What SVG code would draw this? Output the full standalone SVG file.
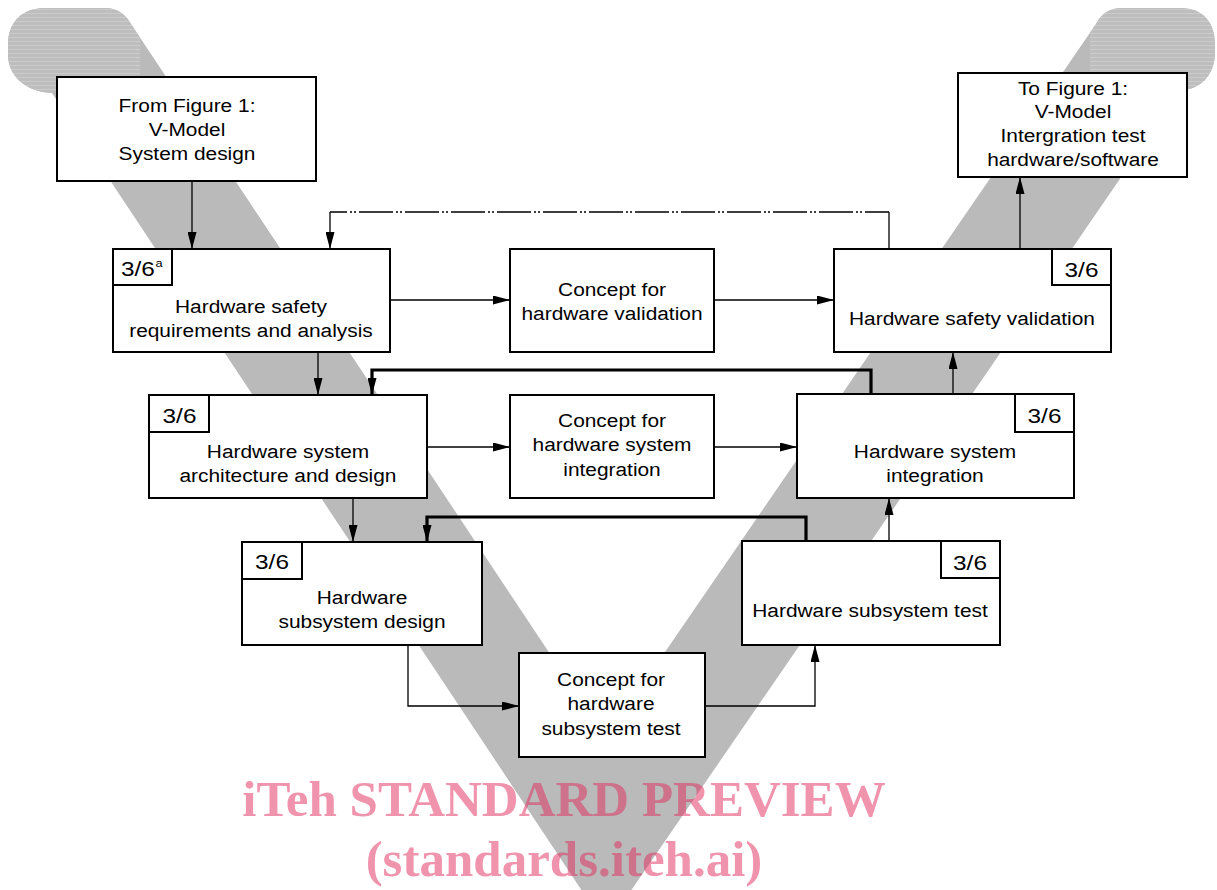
<svg xmlns="http://www.w3.org/2000/svg" width="1217" height="890" viewBox="0 0 1217 890">
<style>
.box{fill:#fff;stroke:#000;stroke-width:2}
.lbl{fill:none;stroke:#000;stroke-width:2}
.t{font-family:"Liberation Sans",Arial,sans-serif;font-size:18px;fill:#000;text-anchor:middle}
.n{font-family:"Liberation Sans",Arial,sans-serif;font-size:21px;fill:#000;text-anchor:middle}
.c{fill:none;stroke:#000;stroke-width:1.3}
.b{fill:none;stroke:#000;stroke-width:3.2}
.wm{font-family:"Liberation Serif","Times New Roman",serif;font-weight:bold;font-size:51px;fill:rgb(225,40,90);fill-opacity:0.5;text-anchor:middle}
</style>
<defs>
<marker id="ah" markerUnits="userSpaceOnUse" markerWidth="17" markerHeight="9" refX="17" refY="4.5" orient="auto"><path d="M0,0 L17,4.5 L0,9 z" fill="#000"/></marker>
<pattern id="stripes" patternUnits="userSpaceOnUse" width="40" height="4"><rect width="40" height="4" fill="#bebebe"/><rect y="1" width="40" height="1" fill="#cbcbcb"/></pattern>
<clipPath id="vclip"><path d="M52,93 C25,92 8,75 8,55 L8,45 C8,22 22,8 45,8 L105,8 Q122,8 131,24 L606,738 L1096,24 Q1104,8 1122,8 L1180,8 C1203,8 1215,22 1215,45 L1215,52 C1215,75 1200,90 1181,90 L606,927 Z"/></clipPath>
</defs>
<rect width="1217" height="890" fill="#fff"/>
<path id="vshape" d="M52,93 C25,92 8,75 8,55 L8,45 C8,22 22,8 45,8 L105,8 Q122,8 131,24 L606,738 L1096,24 Q1104,8 1122,8 L1180,8 C1203,8 1215,22 1215,45 L1215,52 C1215,75 1200,90 1181,90 L606,927 Z" fill="#bababa"/>
<g clip-path="url(#vclip)">
<rect x="0" y="8" width="140" height="84" fill="url(#stripes)"/>
<rect x="1090" y="8" width="127" height="84" fill="url(#stripes)"/>
</g>
<g id="connectors">
<path class="c" d="M192,181 V249" marker-end="url(#ah)"/>
<path class="c" d="M889,249 V212"/>
<path class="c" d="M330,212 H889" stroke-dasharray="34 3 2 2 2 3" stroke-dashoffset="17"/>
<path class="c" d="M330,212 V249" marker-end="url(#ah)"/>
<path class="c" d="M390,300 H510" marker-end="url(#ah)"/>
<path class="c" d="M714,300 H834" marker-end="url(#ah)"/>
<path class="c" d="M1020,249 V177" marker-end="url(#ah)"/>
<path class="c" d="M318,352 V395" marker-end="url(#ah)"/>
<path class="b" d="M871,394 V370 H372 V395" marker-end="url(#ah)"/>
<path class="c" d="M427,447 H510" marker-end="url(#ah)"/>
<path class="c" d="M714,447 H797" marker-end="url(#ah)"/>
<path class="c" d="M953,394 V352" marker-end="url(#ah)"/>
<path class="c" d="M353,498 V542" marker-end="url(#ah)"/>
<path class="b" d="M806,541 V517 H427 V542" marker-end="url(#ah)"/>
<path class="c" d="M889,541 V498" marker-end="url(#ah)"/>
<path class="c" d="M408,645 V706 H519" marker-end="url(#ah)"/>
<path class="c" d="M705,706 H815 V645" marker-end="url(#ah)"/>
</g>
<g id="from-figure">
<rect class="box" x="57" y="77" width="259" height="104"/>
<text class="t" transform="translate(187,111.5) scale(1.16,1)"><tspan x="0" y="0">From Figure 1:</tspan><tspan x="0" y="24.5">V-Model</tspan><tspan x="0" y="49">System design</tspan></text>
</g>
<g id="to-figure">
<rect class="box" x="958" y="73" width="229" height="104"/>
<text class="t" transform="translate(1073,94.5) scale(1.16,1)"><tspan x="0" y="0">To Figure 1:</tspan><tspan x="0" y="24">V-Model</tspan><tspan x="0" y="48">Intergration test</tspan><tspan x="0" y="72">hardware/software</tspan></text>
</g>
<g id="hw-safety-req">
<rect class="box" x="113" y="249" width="277" height="103"/>
<rect class="lbl" x="113" y="249" width="59" height="36"/>
<text class="n" style="text-anchor:start" transform="translate(121,276) scale(1.16,1)">3/6</text>
<text class="t" style="text-anchor:start;font-size:11px" transform="translate(155.5,267) scale(1.16,1)">a</text>
<text class="t" transform="translate(251,312.5) scale(1.16,1)"><tspan x="0" y="0">Hardware safety</tspan><tspan x="0" y="24.5">requirements and analysis</tspan></text>
</g>
<g id="concept-validation">
<rect class="box" x="510" y="249" width="204" height="103"/>
<text class="t" transform="translate(612,295.5) scale(1.16,1)"><tspan x="0" y="0">Concept for</tspan><tspan x="0" y="24.5">hardware validation</tspan></text>
</g>
<g id="hw-safety-validation">
<rect class="box" x="834" y="249" width="277" height="103"/>
<rect class="lbl" x="1052" y="249" width="59" height="36"/>
<text class="n" transform="translate(1081.5,276.5) scale(1.16,1)">3/6</text>
<text class="t" transform="translate(972,325) scale(1.16,1)">Hardware safety validation</text>
</g>
<g id="hw-sys-arch">
<rect class="box" x="149" y="395" width="278" height="103"/>
<rect class="lbl" x="149" y="395" width="60" height="37"/>
<text class="n" transform="translate(179.5,422.5) scale(1.16,1)">3/6</text>
<text class="t" transform="translate(288,458) scale(1.16,1)"><tspan x="0" y="0">Hardware system</tspan><tspan x="0" y="24.5">architecture and design</tspan></text>
</g>
<g id="concept-sys-int">
<rect class="box" x="510" y="395" width="204" height="103"/>
<text class="t" transform="translate(612,427) scale(1.16,1)"><tspan x="0" y="0">Concept for</tspan><tspan x="0" y="24.5">hardware system</tspan><tspan x="0" y="49">integration</tspan></text>
</g>
<g id="hw-sys-int">
<rect class="box" x="797" y="394" width="277" height="104"/>
<rect class="lbl" x="1015" y="394" width="59" height="38"/>
<text class="n" transform="translate(1044.5,423) scale(1.16,1)">3/6</text>
<text class="t" transform="translate(935,457.5) scale(1.16,1)"><tspan x="0" y="0">Hardware system</tspan><tspan x="0" y="24.5">integration</tspan></text>
</g>
<g id="hw-subsys-design">
<rect class="box" x="242" y="542" width="240" height="103"/>
<rect class="lbl" x="242" y="542" width="60" height="37"/>
<text class="n" transform="translate(272,569) scale(1.16,1)">3/6</text>
<text class="t" transform="translate(362,604) scale(1.16,1)"><tspan x="0" y="0">Hardware</tspan><tspan x="0" y="24.5">subsystem design</tspan></text>
</g>
<g id="hw-subsys-test">
<rect class="box" x="742" y="541" width="258" height="104"/>
<rect class="lbl" x="941" y="541" width="59" height="37"/>
<text class="n" transform="translate(970,569.5) scale(1.16,1)">3/6</text>
<text class="t" transform="translate(870,617) scale(1.16,1)">Hardware subsystem test</text>
</g>
<g id="concept-subsys-test">
<rect class="box" x="519" y="653" width="186" height="104"/>
<text class="t" transform="translate(611,686) scale(1.16,1)"><tspan x="0" y="0">Concept for</tspan><tspan x="0" y="24.5">hardware</tspan><tspan x="0" y="49">subsystem test</tspan></text>
</g>
<g id="watermark">
<text class="wm" x="564" y="816">iTeh STANDARD PREVIEW</text>
<text class="wm" x="564" y="876">(standards.iteh.ai)</text>
</g>
</svg>
